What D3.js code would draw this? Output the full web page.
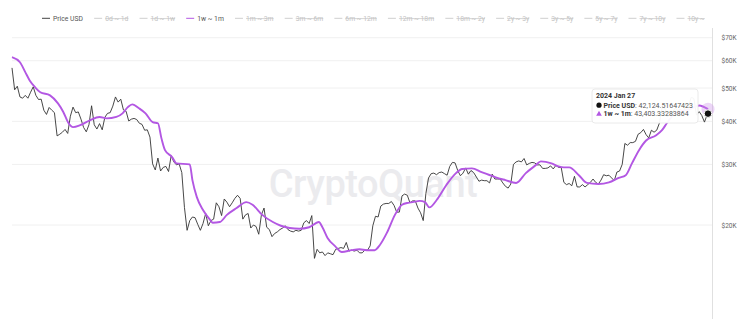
<!DOCTYPE html>
<html><head><meta charset="utf-8">
<script src="https://cdn.jsdelivr.net/npm/d3@7"></script>
<style>
html,body{margin:0;padding:0;background:#fff;}
svg{display:block;font-family:Roboto,"Noto Sans",sans-serif;}
</style>
</head><body>
<svg id="chart" width="750" height="319"></svg>
<script>
// ---------------- data ----------------
const legendLabels = ["Price USD","0d ~ 1d","1d ~ 1w","1w ~ 1m","1m ~ 3m","3m ~ 6m","6m ~ 12m","12m ~ 18m","18m ~ 2y","2y ~ 3y","3y ~ 5y","5y ~ 7y","7y ~ 10y","10y ~"];
const activeLegend = ["Price USD","1w ~ 1m"];
const yTicks = [20000,30000,40000,50000,60000,70000];
const yTickLabels = ["$20K","$30K","$40K","$50K","$60K","$70K"];

// Price USD, thousands of USD, one value every 3 days from 2021-12-01
const priceStart = "2021-12-01";
const priceStepDays = 3;
const priceValues = [
 57.2,49.4,50.6,47.1,46.7,47.6,46.7,48.6,50.4,47.6,46.3,
 46.4,43.1,41.9,43.9,43.1,42.4,36.3,36.7,37.2,37.9,
 36.9,41.4,44.0,42.4,42.6,40.6,38.4,37.3,39.1,
 44.4,39.1,38.0,39.4,37.8,41.1,42.2,42.4,44.3,47.1,45.5,
 46.4,43.2,42.8,40.1,40.6,40.8,40.5,39.5,39.2,37.7,
 37.8,36.0,30.1,28.9,31.3,28.7,29.4,29.6,28.6,31.8,
 30.5,29.9,30.1,28.4,22.5,19.3,20.6,21.1,21.0,20.1,
 19.3,20.2,21.6,19.9,20.6,20.8,23.2,22.6,21.3,23.8,
 23.3,22.6,23.2,23.9,24.4,23.9,20.8,21.4,21.6,19.6,20.0,
 19.8,18.8,21.4,22.4,19.7,19.4,18.5,18.9,19.1,19.4,
 19.6,19.9,19.4,19.2,19.1,19.3,19.2,19.3,20.3,20.6,
 20.2,21.3,16.0,17.0,16.6,16.7,16.3,16.6,16.5,16.4,
 17.0,17.1,17.2,17.1,17.8,16.8,16.9,16.8,16.9,16.6,
 16.6,16.9,16.9,17.4,19.9,21.2,21.1,22.7,23.0,23.1,23.1,
 23.4,22.8,21.8,21.8,24.3,24.6,24.4,23.2,23.5,
 23.5,22.4,21.7,20.6,24.7,27.4,28.2,28.3,28.0,28.4,
 28.5,28.2,27.9,29.6,30.4,30.3,28.8,27.8,28.3,29.3,
 28.1,28.8,28.4,27.6,26.8,27.0,26.9,26.9,26.5,28.1,27.2,
 27.2,27.2,26.5,25.9,25.6,26.3,30.0,30.5,30.7,30.5,
 31.2,29.9,30.2,30.4,30.3,29.9,29.9,29.2,29.2,29.3,
 29.7,29.1,29.8,29.4,29.4,26.6,26.2,26.4,26.0,27.7,
 25.8,25.8,26.2,25.8,26.2,26.6,27.2,26.6,26.3,27.0,
 28.0,27.8,27.9,27.4,26.9,28.5,28.7,30.0,34.5,34.1,34.7,
 34.7,35.0,36.7,37.1,37.9,36.6,35.8,37.7,37.2,37.7,
 39.5,43.8,43.8,41.2,41.9,42.7,43.7,43.0,43.4,42.1,
 44.9,44.2,47.0,46.6,41.7,42.7,41.6,39.8,41.8
];
const priceLastDate = "2024-01-27";
const priceLastValue = 42.12451647423;

// 1w ~ 1m realized price, thousands of USD
const bandDates = ["2021-12-01","2021-12-10","2021-12-16","2021-12-21","2021-12-27","2022-01-02","2022-01-13","2022-01-22","2022-01-28","2022-02-03","2022-02-08","2022-02-16","2022-02-27","2022-03-10","2022-03-18","2022-03-29","2022-04-05","2022-04-11","2022-04-16","2022-04-24","2022-05-01","2022-05-09","2022-05-15","2022-05-19","2022-05-23","2022-05-31","2022-06-05","2022-06-20","2022-06-23","2022-06-28","2022-07-05","2022-07-13","2022-07-16","2022-07-24","2022-08-01","2022-08-12","2022-08-23","2022-08-30","2022-09-10","2022-09-22","2022-10-01","2022-10-11","2022-10-22","2022-11-02","2022-11-13","2022-11-17","2022-11-23","2022-12-01","2022-12-09","2022-12-20","2022-12-29","2023-01-06","2023-01-15","2023-01-21","2023-01-29","2023-02-07","2023-02-15","2023-02-22","2023-02-27","2023-03-07","2023-03-13","2023-03-18","2023-03-26","2023-04-06","2023-04-17","2023-04-24","2023-05-05","2023-05-16","2023-06-01","2023-06-12","2023-06-24","2023-07-05","2023-07-16","2023-07-22","2023-08-03","2023-08-11","2023-08-17","2023-08-23","2023-09-03","2023-09-12","2023-09-25","2023-10-07","2023-10-18","2023-10-26","2023-11-02","2023-11-10","2023-11-18","2023-11-29","2023-12-06","2023-12-12","2023-12-20","2023-12-30","2024-01-08","2024-01-17","2024-01-27"];
const bandValues = [61.5,59.4,55.6,52.6,50.3,48.6,47.6,45.1,42.6,39.5,38.5,39.0,40.3,41.2,40.8,41.2,42.2,44.0,44.8,43.6,42.2,39.8,39.5,35.7,33.0,31.5,30.2,30.0,27.0,24.1,22.1,20.7,20.3,20.4,21.4,22.4,23.3,22.9,21.4,20.4,19.9,19.6,19.5,19.7,20.4,19.7,18.3,17.4,16.7,16.9,17.0,16.9,16.9,17.5,19.0,21.4,22.9,23.2,23.3,23.5,23.3,22.5,23.6,26.1,28.3,29.1,29.2,28.5,27.5,27.0,26.5,28.3,29.8,30.6,30.2,29.6,29.4,29.4,27.9,26.5,26.3,26.6,27.4,27.9,30.2,33.0,35.2,36.4,37.7,39.7,42.0,43.0,43.5,44.5,43.40333283864];

// ---------------- chart ----------------
const svg = d3.select("#chart");
const parse = d3.utcParse("%Y-%m-%d");
const day = 24*3600*1000;
const p0 = parse(priceStart).getTime();
const priceData = priceValues.map((v,i)=>({date:new Date(p0 + i*priceStepDays*day), value:v*1000}));
priceData.push({date:parse(priceLastDate), value:priceLastValue*1000});
const bandData = bandDates.map((d,i)=>({date:parse(d), value:bandValues[i]*1000}));

const x = d3.scaleUtc().domain([parse("2021-12-01"), parse("2024-01-27")]).range([12, 708]);
const y = d3.scaleLog().domain([20000,70000]).range([225,37.7]);

// grid
svg.append("g").selectAll("line").data(yTicks).join("line")
  .attr("x1",12).attr("x2",712).attr("y1",d=>y(d)).attr("y2",d=>y(d))
  .attr("stroke","#f0f0f0").attr("stroke-width",1);

// watermark
svg.append("text").attr("x",373).attr("y",197).attr("text-anchor","middle")
  .attr("font-size",38).attr("font-weight",500).attr("fill","#ebebee")
  .attr("letter-spacing",-0.5).text("CryptoQuant");

// y axis (right)
const yAxis = d3.axisRight(y).tickValues(yTicks).tickFormat((d,i)=>yTickLabels[i]).tickSize(0).tickPadding(9);
const ag = svg.append("g").attr("transform","translate(712.5,0)").call(yAxis);
ag.select(".domain").remove();
ag.selectAll("text").attr("fill","#666").attr("font-size",6.5).attr("font-family","Roboto, sans-serif");
svg.append("line").attr("x1",712.5).attr("x2",712.5).attr("y1",28).attr("y2",319).attr("stroke","#e0e0e0");

// lines
const lineGen = d3.line().x(d=>x(d.date)).y(d=>y(d.value));
svg.append("path").datum(priceData).attr("d",lineGen.curve(d3.curveLinear))
  .attr("fill","none").attr("stroke","#333").attr("stroke-width",0.9).attr("stroke-linejoin","round");
svg.append("path").datum(bandData).attr("d",d3.line().x(d=>x(d.date)).y(d=>y(d.value)).curve(d3.curveMonotoneX))
  .attr("fill","none").attr("stroke","#b357e3").attr("stroke-width",1.9).attr("stroke-linejoin","round");

// hover markers
const lastP = priceData[priceData.length-1], lastB = bandData[bandData.length-1];
svg.append("circle").attr("cx",x(lastB.date)).attr("cy",y(lastB.value)).attr("r",6.5).attr("fill","#c98ae8").attr("opacity",0.35);
svg.append("circle").attr("cx",x(lastP.date)).attr("cy",y(lastP.value)).attr("r",3.8).attr("fill","#111").attr("stroke","#fff").attr("stroke-width",1);

// legend
const lg = svg.append("g").attr("font-size",6.8);
const items = [];
legendLabels.forEach(lab=>{
  const g = lg.append("g");
  const active = activeLegend.includes(lab);
  const col = lab==="Price USD" ? "#444" : (lab==="1w ~ 1m" ? "#b357e3" : "#cfcfcf");
  g.append("line").attr("x1",0).attr("x2",8).attr("y1",0).attr("y2",0).attr("stroke",col).attr("stroke-width",1);
  const t = g.append("text").attr("x",11).attr("y",2.4).attr("fill",active?"#555":"#c4c4c4")
    .style("text-decoration",active?"none":"line-through").text(lab);
  const w = t.node().getComputedTextLength();
  items.push({g, w});
});
let total = 0;
items.forEach((it,i)=>{ it.x = total; total += 11 + it.w + (i<items.length-1?10.5:0); });
const startX = 42;
const scaleL = (705-42)/total;
items.forEach(it=>it.g.attr("transform",`translate(${startX+it.x*scaleL},18.3)`));

// tooltip
const tt = svg.append("g").attr("transform","translate(592,89)");
tt.append("rect").attr("width",106).attr("height",34).attr("rx",3).attr("fill","#fff").attr("fill-opacity",0.95)
  .attr("stroke","#e4e4e4").attr("stroke-width",0.8);
const fmtDate = d3.utcFormat("%Y %b %d");
const fmtNum = v=>d3.format(",")(Math.floor(v)) + "." + (v.toFixed(8).split(".")[1]);
tt.append("text").attr("x",4).attr("y",9).attr("font-size",7).attr("font-weight",700).attr("fill","#333").text(fmtDate(lastP.date));
tt.append("circle").attr("cx",7).attr("cy",16.2).attr("r",2.6).attr("fill","#111");
const t1 = tt.append("text").attr("x",11.5).attr("y",18.6).attr("font-size",7).attr("fill","#555");
t1.append("tspan").attr("font-weight",700).attr("fill","#333").text("Price USD");
t1.append("tspan").text(": " + fmtNum(priceLastValue*1000));
tt.append("path").attr("d",d3.symbol(d3.symbolTriangle,14)()).attr("transform","translate(7,25)").attr("fill","#b357e3");
const t2 = tt.append("text").attr("x",11.5).attr("y",27.4).attr("font-size",7).attr("fill","#555");
t2.append("tspan").attr("font-weight",700).attr("fill","#333").text("1w ~ 1m");
t2.append("tspan").text(": " + fmtNum(lastB.value));
</script>
</body></html>
